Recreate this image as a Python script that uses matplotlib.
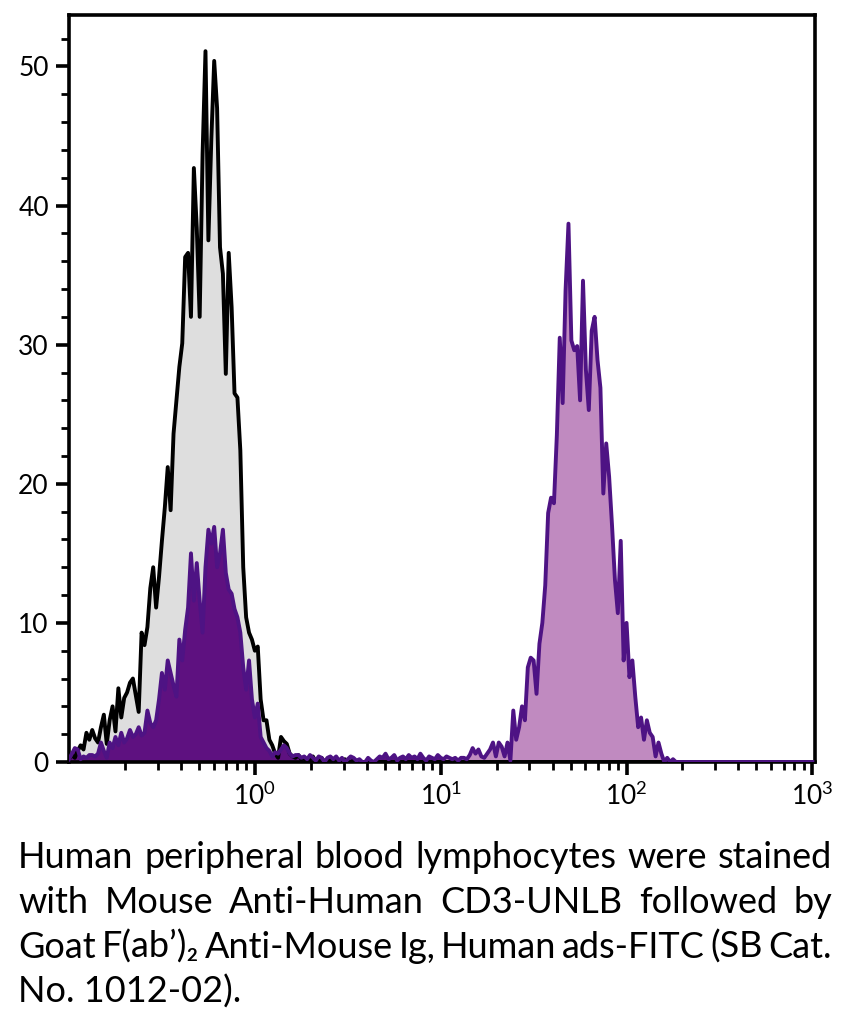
import numpy as np
import matplotlib
matplotlib.use('Agg')
import matplotlib.pyplot as plt
from matplotlib.ticker import FixedLocator, NullFormatter

plt.rcParams['font.family'] = ['Lato', 'DejaVu Sans']
plt.rcParams['mathtext.fontset'] = 'custom'
plt.rcParams['mathtext.rm'] = 'Lato'
plt.rcParams['mathtext.it'] = 'Lato:italic'
plt.rcParams['mathtext.bf'] = 'Lato:bold'

# ---------------- data ----------------
# channels: 64 per decade, from 10^-1 to 10^3
log_channel = np.linspace(-1, 3, 257)

control_counts = [
    0.2, 0.5, 0.3, 0.8, 1.2, 0.9, 2.1, 1.6, 2.3, 1.7,
    1.4, 2.5, 3.4, 1.3, 3.0, 4.0, 2.2, 5.3, 3.2, 4.6,
    5.0, 5.7, 6.0, 4.8, 3.6, 9.3, 8.4, 9.7, 12.5, 14.0,
    11.1, 13.3, 15.9, 18.3, 21.2, 18.1, 23.6, 26.0, 28.4, 30.1,
    36.3, 36.6, 32.0, 42.7, 38.4, 32.0, 43.7, 51.1, 37.5, 44.7,
    50.4, 47.0, 37.0, 35.1, 27.9, 36.6, 32.7, 26.5, 26.2, 22.4,
    14.0, 10.4, 9.3, 8.8, 8.0, 8.3, 4.5, 3.0, 3.0, 1.6,
    1.2, 0.6, 0.3, 1.8, 1.5, 1.3, 0.6, 0.4, 0.3, 0.5,
    0.2, 0.3, 0.0, 0.2, 0.4, 0.0, 0.1, 0.3, 0.0, 0.0,
    0.2, 0.0, 0.3, 0.0, 0.0, 0.2, 0.0, 0.0, 0.1, 0.0,
] + [0.0] * 157

stained_counts = [
    0.2, 0.6, 1.0, 0.9, 0.2, 0.4, 0.3, 0.5, 0.5, 0.4,
    0.6, 1.4, 0.8, 0.3, 1.4, 1.0, 1.8, 1.2, 2.1, 1.4,
    1.7, 2.3, 1.8, 2.0, 2.5, 1.9, 2.1, 3.7, 2.8, 2.5,
    3.0, 4.5, 6.4, 5.2, 7.3, 6.4, 5.5, 4.7, 8.8, 7.3,
    9.5, 11.1, 15.0, 11.6, 14.3, 11.6, 9.3, 14.0, 16.7, 15.7,
    16.9, 14.0, 15.0, 16.7, 13.6, 12.4, 12.1, 11.0, 10.4, 9.3,
    6.8, 5.2, 7.3, 4.5, 3.2, 4.2, 1.8, 1.4, 1.0, 0.8,
    0.4, 0.7, 0.6, 0.9, 1.2, 1.0, 0.6, 0.4, 0.5, 0.5,
    0.3, 0.4, 0.2, 0.5, 0.3, 0.1, 0.4, 0.3, 0.0, 0.3,
    0.4, 0.2, 0.4, 0.1, 0.3, 0.0, 0.2, 0.4, 0.3, 0.1,
    0.2, 0.0, 0.0, 0.3, 0.1, 0.0, 0.2, 0.4, 0.3, 0.6,
    0.2, 0.3, 0.5, 0.1, 0.3, 0.4, 0.2, 0.5, 0.3, 0.4,
    0.2, 0.6, 0.3, 0.1, 0.4, 0.3, 0.2, 0.5, 0.3, 0.2,
    0.4, 0.3, 0.2, 0.3, 0.1, 0.3, 0.3, 0.2, 0.5, 1.0,
    0.6, 0.9, 0.4, 0.3, 0.6, 0.9, 1.4, 0.4, 1.4, 1.1,
    0.4, 1.4, 0.1, 3.7, 1.6, 2.5, 4.0, 3.0, 6.8, 7.5,
    7.3, 4.9, 8.5, 10.0, 12.7, 17.9, 19.0, 18.6, 23.5, 30.5,
    25.8, 33.9, 38.7, 30.3, 29.6, 29.9, 26.0, 34.6, 28.2, 25.3,
    31.0, 32.0, 28.9, 26.9, 19.3, 22.9, 20.5, 17.0, 13.1, 10.7,
    15.9, 7.3, 10.0, 6.1, 7.3, 4.7, 2.5, 3.2, 1.6, 3.0,
    2.1, 1.8, 0.4, 1.4, 0.6, 0.0, 0.3, 0.0, 0.2, 0.0,
] + [0.0] * 47

x_major = [1, 10, 100, 1000]
x_major_labels = [r'$\mathregular{10^{0}}$', r'$\mathregular{10^{1}}$',
                  r'$\mathregular{10^{2}}$', r'$\mathregular{10^{3}}$']
y_major = [0, 10, 20, 30, 40, 50]
y_major_labels = ['0', '10', '20', '30', '40', '50']

caption_lines = [
    "Human peripheral blood lymphocytes were stained",
    "with Mouse Anti-Human CD3-UNLB followed by",
    "Goat F(ab\u2019)\u2082 Anti-Mouse Ig, Human ads-FITC (SB Cat.",
    "No. 1012-02).",
]

# ---------------- figure ----------------
W, H = 846, 1013
fig = plt.figure(figsize=(W / 100, H / 100), dpi=100)
ax = fig.add_axes([69 / W, 1 - 762 / H, (815 - 69) / W, (762 - 15) / H])

x = 10 ** log_channel
control = np.array(control_counts)
stained = np.array(stained_counts)

ax.fill_between(x, 0, control, color='#DEDEDE', lw=0, zorder=1)
dark = log_channel <= 1.0
light = log_channel >= 1.0
ax.fill_between(x[dark], 0, stained[dark], color='#5E1180', lw=0, zorder=2)
ax.fill_between(x[light], 0, stained[light], color='#C08AC0', lw=0, zorder=2)
ax.plot(x, control, color='black', lw=2.8, zorder=3)
ax.plot(x, stained, color='#4E1384', lw=2.8, zorder=4)

ax.set_xscale('log')
ax.set_xlim(10 ** -1, 10 ** 3.014)
ax.set_ylim(0, 53.7)

ax.xaxis.set_major_locator(FixedLocator(x_major))
ax.set_xticklabels(x_major_labels)
minor_x = [m * 10 ** d for d in range(-1, 3) for m in range(2, 10)]
ax.xaxis.set_minor_locator(FixedLocator(minor_x))
ax.xaxis.set_minor_formatter(NullFormatter())

ax.yaxis.set_major_locator(FixedLocator(y_major))
ax.set_yticklabels(y_major_labels)
ax.yaxis.set_minor_locator(FixedLocator([v for v in range(2, 53, 2) if v % 10 != 0]))

for s in ax.spines.values():
    s.set_linewidth(2.6)
ax.tick_params(which='major', direction='out', length=9.5, width=2.6,
               labelsize=19, pad=5)
ax.tick_params(which='minor', direction='out', length=5.5, width=2.0)

# ---------------- caption (justified) ----------------
renderer = fig.canvas.get_renderer()
left_px, right_px = 18, 832
baselines = [868, 913, 958, 1003]
probe = fig.text(0, 0, caption_lines[0], fontsize=20)
fs = 20 * (right_px - left_px) / probe.get_window_extent(renderer).width * 0.995
probe.remove()
for k, line in enumerate(caption_lines):
    yfig = 1 - baselines[k] / H
    if k == len(caption_lines) - 1:
        fig.text(left_px / W, yfig, line, fontsize=fs, va='baseline', ha='left')
        continue
    words = line.split(' ')
    texts = [fig.text(0, yfig, w_, fontsize=fs, va='baseline', ha='left') for w_ in words]
    widths = [t.get_window_extent(renderer).width for t in texts]
    gap = (right_px - left_px - sum(widths)) / (len(words) - 1)
    xp = left_px
    for t, wd in zip(texts, widths):
        t.set_x(xp / W)
        xp += wd + gap

fig.savefig('out.png', dpi=100)
